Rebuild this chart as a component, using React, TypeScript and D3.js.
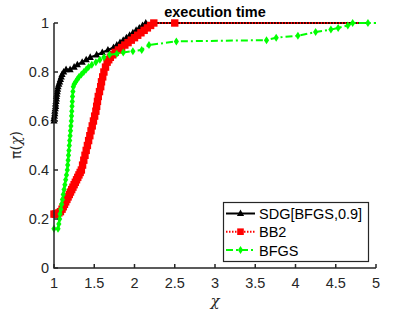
import React, { useEffect, useRef } from 'react';
import * as d3 from 'd3';

// performance profile data (last point of each series is the tail, drawn without marker)
const sdgX = [1, 1, 1.005, 1.01, 1.01, 1.015, 1.02, 1.02, 1.025, 1.03, 1.03, 1.035, 1.04, 1.045, 1.05, 1.06, 1.07, 1.08, 1.09, 1.1, 1.12, 1.15, 1.2, 1.25, 1.29, 1.35, 1.4, 1.45, 1.53, 1.6, 1.67, 1.74, 1.78, 1.82, 1.86, 1.9, 1.94, 1.98, 2.02, 2.06, 2.1, 2.14, 4.88];
const sdgY = [0.6, 0.61, 0.62, 0.63, 0.64, 0.65, 0.66, 0.67, 0.68, 0.69, 0.7, 0.71, 0.72, 0.73, 0.74, 0.75, 0.76, 0.77, 0.78, 0.79, 0.8, 0.81, 0.81, 0.82, 0.83, 0.84, 0.85, 0.86, 0.87, 0.88, 0.89, 0.9, 0.91, 0.92, 0.93, 0.94, 0.95, 0.96, 0.97, 0.98, 0.99, 1.0, 1.0];

const bb2X = [1, 1.02, 1.04, 1.06, 1.08, 1.1, 1.115, 1.13, 1.145, 1.16, 1.175, 1.19, 1.205, 1.22, 1.235, 1.25, 1.265, 1.28, 1.295, 1.31, 1.325, 1.34, 1.355, 1.37, 1.385, 1.4, 1.415, 1.43, 1.445, 1.46, 1.475, 1.49, 1.505, 1.52, 1.53, 1.54, 1.55, 1.565, 1.58, 1.59, 1.605, 1.62, 1.64, 1.66, 1.68, 1.7, 1.73, 1.76, 1.8, 1.84, 1.88, 1.92, 1.96, 2.0, 2.04, 2.08, 2.12, 2.16, 2.2, 2.24, 2.5, 4.88];
const bb2Y = [0.22, 0.22, 0.22, 0.225, 0.23, 0.24, 0.25, 0.26, 0.27, 0.28, 0.29, 0.3, 0.31, 0.32, 0.33, 0.34, 0.35, 0.36, 0.37, 0.38, 0.39, 0.4, 0.42, 0.44, 0.46, 0.48, 0.5, 0.52, 0.54, 0.56, 0.58, 0.6, 0.62, 0.64, 0.66, 0.68, 0.7, 0.72, 0.74, 0.76, 0.78, 0.8, 0.82, 0.84, 0.85, 0.86, 0.87, 0.88, 0.89, 0.9, 0.91, 0.92, 0.93, 0.94, 0.95, 0.96, 0.97, 0.98, 0.99, 1.0, 1.0, 1.0];

const bfgsX = [1, 1.05, 1.06, 1.07, 1.075, 1.085, 1.095, 1.105, 1.115, 1.125, 1.135, 1.145, 1.155, 1.165, 1.17, 1.175, 1.18, 1.185, 1.19, 1.195, 1.2, 1.205, 1.21, 1.215, 1.218, 1.221, 1.224, 1.227, 1.23, 1.235, 1.24, 1.25, 1.27, 1.29, 1.31, 1.34, 1.37, 1.4, 1.43, 1.47, 1.52, 1.57, 1.62, 1.69, 1.78, 1.86, 1.98, 2.09, 2.18, 2.52, 3.64, 3.76, 4.03, 4.25, 4.44, 4.53, 4.65, 4.71, 4.9, 5.0];
const bfgsY = [0.16, 0.16, 0.18, 0.2, 0.22, 0.24, 0.26, 0.28, 0.3, 0.32, 0.34, 0.36, 0.38, 0.4, 0.42, 0.44, 0.46, 0.48, 0.5, 0.52, 0.54, 0.56, 0.58, 0.6, 0.62, 0.64, 0.66, 0.68, 0.7, 0.72, 0.74, 0.75, 0.76, 0.77, 0.78, 0.79, 0.8, 0.81, 0.82, 0.83, 0.84, 0.85, 0.86, 0.87, 0.875, 0.88, 0.885, 0.89, 0.91, 0.925, 0.93, 0.94, 0.948, 0.963, 0.973, 0.98, 0.99, 1.0, 1.0, 1.0];

const xTicks = [1, 1.5, 2, 2.5, 3, 3.5, 4, 4.5, 5];
const yTicks = [0, 0.2, 0.4, 0.6, 0.8, 1];
const names = ['SDG[BFGS,0.9]', 'BB2', 'BFGS'];

const W = 415;
const H = 312;
const ink = '#262626';
const font = '"Liberation Sans", Arial, sans-serif';

const App = () => {
  const svgRef = useRef<SVGSVGElement>(null);

  useEffect(() => {
    document.body.style.margin = '0';
    const svg = d3.select(svgRef.current);
    svg.selectAll('*').remove();

    const x = d3.scaleLinear().domain([1, 5]).range([54, 376]);
    const y = d3.scaleLinear().domain([0, 1]).range([268, 23]);

    const series = [
      { xs: sdgX, ys: sdgY, color: '#000000', dash: null, marker: 'tri', size: 1 },
      { xs: bb2X, ys: bb2Y, color: '#ff0000', dash: '1.5,1.5', marker: 'sq', size: 1.12 },
      { xs: bfgsX, ys: bfgsY, color: '#00ff00', dash: '7,3,2,3', marker: 'dia', size: 1 },
    ];

    const drawMarker = (g, kind, cx, cy, color, k = 1) => {
      if (kind === 'tri') {
        g.append('path')
          .attr('d', `M${cx},${cy - 4 * k}L${cx + 3.6 * k},${cy + 2.6 * k}L${cx - 3.6 * k},${cy + 2.6 * k}Z`)
          .attr('fill', color);
      } else if (kind === 'sq') {
        g.append('rect')
          .attr('x', cx - 3.3 * k).attr('y', cy - 3.3 * k)
          .attr('width', 6.6 * k).attr('height', 6.6 * k)
          .attr('fill', color);
      } else {
        g.append('path')
          .attr('d', `M${cx},${cy - 4 * k}L${cx + 2.6 * k},${cy}L${cx},${cy + 4 * k}L${cx - 2.6 * k},${cy}Z`)
          .attr('fill', color);
      }
    };

    const line = d3.line<[number, number]>()
      .x(d => x(d[0]))
      .y(d => y(d[1]));

    series.forEach(s => {
      const pts: [number, number][] = s.xs.map((v, i) => [v, s.ys[i]]);
      const g = svg.append('g');
      g.append('path')
        .attr('d', line(pts))
        .attr('fill', 'none')
        .attr('stroke', s.color)
        .attr('stroke-width', 2)
        .attr('stroke-dasharray', s.dash);
      pts.slice(0, -1).forEach(p => drawMarker(g, s.marker, x(p[0]), y(p[1]), s.color, s.size));
    });

    // axes (box off, ticks pointing in)
    const axG = svg.append('g');
    axG.append('path')
      .attr('d', `M${x(1)},${y(1)}V${y(0)}H${x(5)}`)
      .attr('fill', 'none').attr('stroke', ink).attr('stroke-width', 1.5);

    xTicks.forEach(t => {
      axG.append('line')
        .attr('x1', x(t)).attr('x2', x(t))
        .attr('y1', y(0)).attr('y2', y(0) - 4)
        .attr('stroke', ink).attr('stroke-width', 1.5);
      axG.append('text')
        .attr('x', x(t)).attr('y', 288)
        .attr('text-anchor', 'middle')
        .attr('font-family', font).attr('font-size', 14.5)
        .attr('fill', ink)
        .text(d3.format('~g')(t));
    });

    yTicks.forEach(t => {
      axG.append('line')
        .attr('x1', x(1)).attr('x2', x(1) + 4)
        .attr('y1', y(t)).attr('y2', y(t))
        .attr('stroke', ink).attr('stroke-width', 1.5);
      axG.append('text')
        .attr('x', 49).attr('y', y(t) + 5)
        .attr('text-anchor', 'end')
        .attr('font-family', font).attr('font-size', 14.5)
        .attr('fill', ink)
        .text(d3.format('~g')(t));
    });

    svg.append('text')
      .attr('x', 215).attr('y', 17)
      .attr('text-anchor', 'middle')
      .attr('font-family', font).attr('font-size', 14.5)
      .attr('font-weight', 'bold')
      .attr('fill', '#000')
      .text('execution time');

    svg.append('text')
      .attr('x', 215).attr('y', 306)
      .attr('text-anchor', 'middle')
      .attr('font-family', '"DejaVu Serif", serif').attr('font-style', 'italic')
      .attr('font-size', 15)
      .attr('fill', ink)
      .text('χ');

    const yl = svg.append('text')
      .attr('transform', 'translate(21,145) rotate(-90)')
      .attr('text-anchor', 'middle')
      .attr('font-family', '"DejaVu Sans", sans-serif')
      .attr('font-size', 14)
      .attr('fill', ink);
    yl.append('tspan').text('π(');
    yl.append('tspan').attr('font-family', '"DejaVu Serif", serif').attr('font-style', 'italic').text('χ');
    yl.append('tspan').text(')');

    // legend
    const lg = svg.append('g');
    lg.append('rect')
      .attr('x', 223.5).attr('y', 202.5)
      .attr('width', 145).attr('height', 59)
      .attr('fill', '#fff').attr('stroke', ink).attr('stroke-width', 1.2);
    const rowY = [213.5, 231.7, 250];
    series.forEach((s, i) => {
      lg.append('line')
        .attr('x1', 226).attr('x2', 255)
        .attr('y1', rowY[i]).attr('y2', rowY[i])
        .attr('stroke', s.color).attr('stroke-width', 2)
        .attr('stroke-dasharray', s.dash);
      drawMarker(lg, s.marker, 240.5, rowY[i], s.color);
      lg.append('text')
        .attr('x', 259).attr('y', rowY[i] + 5.5)
        .attr('font-family', font).attr('font-size', 14.5)
        .attr('fill', '#000')
        .text(names[i]);
    });
  }, []);

  return <svg ref={svgRef} width={W} height={H} style={{ display: 'block', background: '#fff' }} />;
};

export default App;
